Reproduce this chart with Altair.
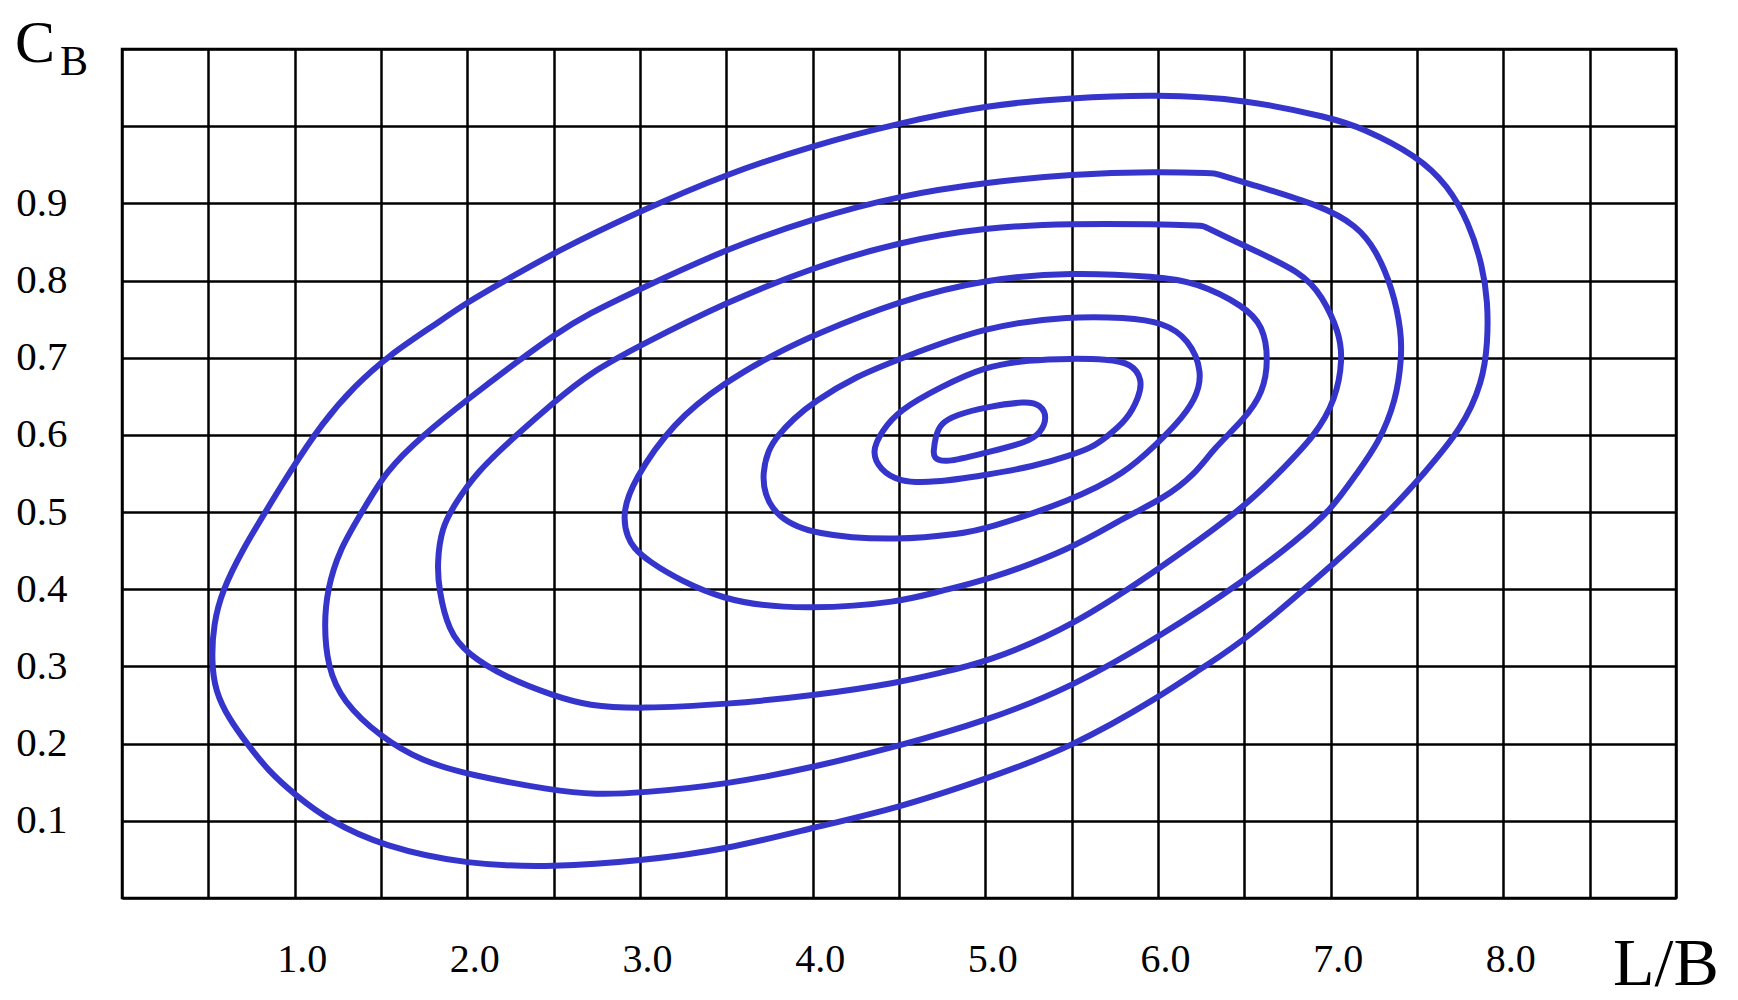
import altair as alt
import pandas as pd

# Contour curves (L/B, C_B), traced clockwise from the left end
CURVE_1 = [(0.518, 0.307), (0.53, 0.355), (0.58, 0.398), (0.695, 0.45), (0.83, 0.5), (0.966, 0.55),
           (1.16, 0.616), (1.35, 0.664), (1.545, 0.703), (1.8, 0.741), (2.0, 0.772), (2.22, 0.80),
           (2.5, 0.836), (3.0, 0.89), (3.5, 0.938), (4.0, 0.975), (4.5, 1.004), (5.0, 1.027),
           (5.5, 1.037), (6.0, 1.041), (6.5, 1.035), (7.0, 1.011), (7.18, 0.998), (7.5, 0.962),
           (7.68, 0.923), (7.80, 0.875), (7.88, 0.819), (7.91, 0.772), (7.91, 0.72), (7.88, 0.668),
           (7.76, 0.608), (7.54, 0.55), (7.34, 0.5), (7.0, 0.429), (6.5, 0.333), (6.26, 0.299),
           (6.02, 0.262), (5.5, 0.195), (5.0, 0.154), (4.5, 0.117), (4.0, 0.091), (3.5, 0.063),
           (3.0, 0.048), (2.5, 0.04), (2.0, 0.043), (1.51, 0.067), (1.2, 0.1), (1.0, 0.134),
           (0.85, 0.164), (0.724, 0.2), (0.62, 0.232), (0.54, 0.268)]
CURVE_2 = [(1.17, 0.355), (1.19, 0.4), (1.256, 0.45), (1.39, 0.5), (1.53, 0.554), (1.74, 0.599),
           (2.0, 0.646), (2.32, 0.70), (2.5, 0.729), (2.70, 0.757), (3.0, 0.789), (3.5, 0.841),
           (4.0, 0.88), (4.5, 0.91), (5.0, 0.927), (5.5, 0.938), (6.0, 0.941), (6.33, 0.939),
           (6.33, 0.939), (6.5, 0.927), (6.95, 0.897), (7.15, 0.871), (7.26, 0.841), (7.36, 0.789),
           (7.41, 0.733), (7.41, 0.698), (7.38, 0.646), (7.28, 0.59), (7.15, 0.55), (7.0, 0.502),
           (6.80, 0.463), (6.5, 0.411), (6.02, 0.34), (5.5, 0.273), (5.0, 0.229), (4.5, 0.197),
           (4.0, 0.169), (3.5, 0.147), (3.0, 0.136), (2.74, 0.134), (2.5, 0.139), (2.0, 0.16),
           (1.74, 0.177), (1.5, 0.208), (1.275, 0.255), (1.19, 0.3)]
CURVE_3 = [(1.825, 0.433), (1.85, 0.48), (1.93, 0.511), (2.05, 0.551), (2.28, 0.599), (2.5, 0.642),
           (2.70, 0.679), (3.0, 0.716), (3.5, 0.772), (4.0, 0.817), (4.5, 0.85), (5.0, 0.869),
           (5.5, 0.874), (6.0, 0.873), (6.26, 0.871), (6.26, 0.871), (6.5, 0.845), (6.84, 0.81),
           (6.95, 0.78), (7.05, 0.733), (7.07, 0.698), (7.03, 0.646), (6.91, 0.599), (6.70, 0.551),
           (6.5, 0.506), (6.03, 0.43), (5.5, 0.351), (5.0, 0.305), (4.74, 0.292),
           (4.5, 0.279), (4.0, 0.262), (3.5, 0.251), (3.0, 0.245), (2.70, 0.249), (2.5, 0.262),
           (2.22, 0.286), (2.0, 0.316), (1.89, 0.346), (1.835, 0.40)]
CURVE_4 = [(2.9, 0.5), (2.96, 0.54), (3.19, 0.616), (3.49, 0.668), (3.78, 0.705),
           (4.0, 0.729), (4.5, 0.774), (5.0, 0.802), (5.5, 0.811), (6.0, 0.805), (6.22, 0.798),
           (6.5, 0.767), (6.61, 0.741), (6.64, 0.698), (6.61, 0.655), (6.5, 0.62), (6.32, 0.582),
           (6.22, 0.55), (6.03, 0.517), (5.81, 0.494), (5.5, 0.452), (5.0, 0.411), (4.74, 0.398),
           (4.5, 0.383), (4.0, 0.374), (3.48, 0.381), (3.0, 0.44), (2.92, 0.468)]
CURVE_5 = [(3.71, 0.55), (3.74, 0.58), (3.80, 0.60), (3.89, 0.621), (4.0, 0.642), (4.26, 0.677),
           (4.5, 0.698), (5.0, 0.741), (5.5, 0.754), (5.81, 0.752), (6.03, 0.746), (6.18, 0.724),
           (6.26, 0.681), (6.22, 0.646), (6.10, 0.612), (6.0, 0.59), (5.81, 0.55), (5.5, 0.515),
           (5.0, 0.478), (4.86, 0.472), (4.5, 0.463), (4.0, 0.47), (3.79, 0.494), (3.72, 0.524)]
CURVE_6 = [(4.34, 0.578), (4.40, 0.605), (4.5, 0.632), (4.74, 0.662), (5.0, 0.689), (5.25, 0.697),
           (5.5, 0.699), (5.7, 0.698), (5.85, 0.693), (5.91, 0.671), (5.89, 0.649), (5.82, 0.619),
           (5.70, 0.597), (5.62, 0.584), (5.5, 0.574), (5.28, 0.559), (5.0, 0.548), (4.70, 0.538),
           (4.5, 0.539), (4.39, 0.555)]
CURVE_7 = [(4.70, 0.578), (4.71, 0.597), (4.74, 0.615), (4.83, 0.626), (5.0, 0.636), (5.24, 0.644),
           (5.32, 0.639), (5.36, 0.623), (5.32, 0.602), (5.24, 0.59), (5.0, 0.577), (4.76, 0.563),
           (4.70, 0.571)]

CURVES = [CURVE_1, CURVE_2, CURVE_3, CURVE_4, CURVE_5, CURVE_6, CURVE_7]

X_GRID = [0, 0.5, 1.0, 1.5, 2.0, 2.5, 3.0, 3.5, 4.0, 4.5, 5.0, 5.5, 6.0, 6.5, 7.0, 7.5, 8.0, 8.5, 9.0]
Y_GRID = [0, 0.1, 0.2, 0.3, 0.4, 0.5, 0.6, 0.7, 0.8, 0.9, 1.0, 1.1]

rows = []
for ci, pts in enumerate(CURVES):
    for pi, (x, y) in enumerate(pts):
        rows.append({"curve": ci + 1, "idx": pi, "lb": x, "cb": y})
df = pd.DataFrame(rows)
one = pd.DataFrame({"k": [0]})

FONT = "Liberation Serif"
BLUE = "#3535CC"
W, H = 1554, 849

x_enc = alt.X("lb:Q", scale=alt.Scale(domain=[0, 9], nice=False, zero=False),
              axis=alt.Axis(values=X_GRID, grid=True, gridColor="black", gridWidth=2.5, gridOpacity=1,
                            ticks=False, domain=False, title=None, labelFont=FONT, labelFontSize=40,
                            labelColor="black", labelPadding=41, labelOffset=7, labelOverlap=False,
                            labelExpr="(datum.value >= 1 && datum.value <= 8 && datum.value % 1 == 0) ? format(datum.value, '.1f') : ''"))
y_enc = alt.Y("cb:Q", scale=alt.Scale(domain=[0, 1.1], nice=False, zero=False),
              axis=alt.Axis(values=Y_GRID, grid=True, gridColor="black", gridWidth=2.5, gridOpacity=1,
                            ticks=False, domain=False, title=None, labelFont=FONT, labelFontSize=41,
                            labelColor="black", labelPadding=55, labelOverlap=False, labelBaseline="middle",
                            labelExpr="(datum.value > 0.05 && datum.value < 0.95) ? format(datum.value, '.1f') : ''"))

lines = alt.Chart(df).mark_line(interpolate="basis-closed", strokeWidth=6, color=BLUE).encode(
    x=x_enc, y=y_enc, detail="curve:N", order="idx:Q")

cb_main = alt.Chart(one).mark_text(text="C", font=FONT, fontSize=60, align="left", baseline="alphabetic",
                                    color="black").encode(x=alt.value(-107), y=alt.value(13))
cb_sub = alt.Chart(one).mark_text(text="B", font=FONT, fontSize=42, align="left", baseline="alphabetic",
                                   color="black").encode(x=alt.value(-62), y=alt.value(26))
lb_title = alt.Chart(one).mark_text(text="L/B", font=FONT, fontSize=68, align="left", baseline="alphabetic",
                                     color="black").encode(x=alt.value(1491), y=alt.value(936))

chart = alt.layer(lines, cb_main, cb_sub, lb_title).properties(
    width=W, height=H,
    autosize=alt.AutoSizeParams(type="none"),
    padding={"left": 114, "top": 41, "right": 54, "bottom": 101},
    background="white",
).configure_view(stroke="black", strokeWidth=2.5)

chart.save("out.html", embed_options={"renderer": "svg", "actions": False})
